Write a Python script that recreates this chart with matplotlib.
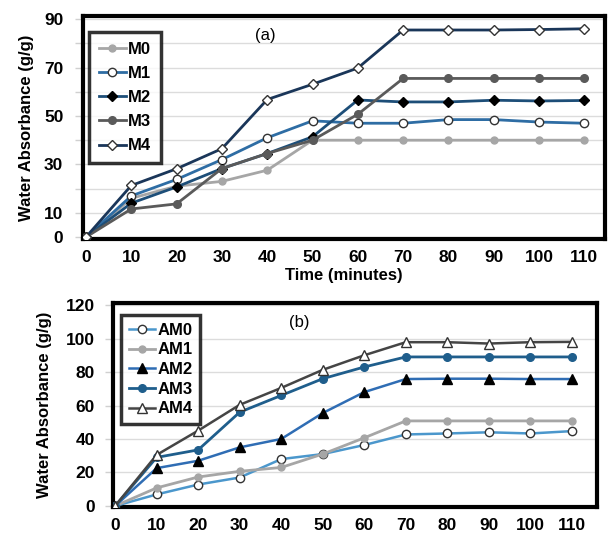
import matplotlib
matplotlib.use("Agg")
import matplotlib.pyplot as plt

plt.rcParams['font.family'] = ['Liberation Sans', 'DejaVu Sans']

time = [0, 10, 20, 30, 40, 50, 60, 70, 80, 90, 100, 110]

# Panel (a)
M0 = [0, 16, 21, 23, 27.6, 40, 40, 40, 40, 40, 40, 40]
M1 = [0, 17, 23.8, 32, 41, 48, 47, 47, 48.5, 48.5, 47.5, 47]
M2 = [0, 14, 20.7, 28.3, 34.5, 41.4, 56.6, 55.8, 55.8, 56.5, 56.2, 56.4]
M3 = [0, 11.6, 13.7, 28.3, 34.5, 40, 50.7, 65.5, 65.5, 65.5, 65.5, 65.5]
M4 = [0, 21.3, 28.2, 36.5, 56.8, 63.1, 69.8, 85.5, 85.5, 85.5, 85.7, 86]

# Panel (b)
AM0 = [0, 6.9, 12.8, 17, 28, 31, 36.4, 42.7, 43.3, 44, 43.3, 44.7]
AM1 = [0, 10.8, 17.3, 20.7, 23, 31, 40.7, 50.8, 50.8, 50.8, 50.8, 50.8]
AM2 = [0, 22.6, 27, 35, 40, 55.5, 68, 75.8, 76, 76, 75.8, 75.8]
AM3 = [0, 29, 33.5, 56, 66, 76, 83, 89, 89, 89, 89, 89]
AM4 = [0, 30.5, 45, 60.4, 70.5, 81.3, 90, 97.8, 97.8, 97, 97.8, 98]

a_labels = ['M0', 'M1', 'M2', 'M3', 'M4']
b_labels = ['AM0', 'AM1', 'AM2', 'AM3', 'AM4']
a_yticks = [0, 10, 20, 30, 40, 50, 60, 70, 80, 90]
a_yticklabels = ['0', '10', '', '30', '', '50', '', '70', '', '90']
b_yticks = [0, 20, 40, 60, 80, 100, 120]

fig = plt.figure(figsize=(6.09, 5.33), dpi=100)

ax1 = fig.add_axes([0.136, 0.5516, 0.857, 0.418])
ax2 = fig.add_axes([0.1856, 0.0488, 0.7944, 0.3827])

a_styles = [
    dict(color='#a6a6a6', marker='o', mfc='#a6a6a6', mec='#a6a6a6', ms=5, lw=2),
    dict(color='#2e6da4', marker='o', mfc='white', mec='#333333', ms=6, lw=2),
    dict(color='#1d4e78', marker='D', mfc='black', mec='black', ms=5, lw=2),
    dict(color='#5a5a5a', marker='o', mfc='#5a5a5a', mec='#5a5a5a', ms=5.5, lw=2),
    dict(color='#1a3659', marker='D', mfc='white', mec='#333333', ms=5.5, lw=2),
]
b_styles = [
    dict(color='#4b97cc', marker='o', mfc='white', mec='#333333', ms=6, lw=1.8),
    dict(color='#a6a6a6', marker='o', mfc='#a6a6a6', mec='#a6a6a6', ms=5, lw=2),
    dict(color='#2f6db4', marker='^', mfc='black', mec='black', ms=6.5, lw=1.8),
    dict(color='#1f5e8c', marker='o', mfc='#1f5e8c', mec='#1f5e8c', ms=5.5, lw=2),
    dict(color='#454545', marker='^', mfc='white', mec='#333333', ms=7, lw=1.8),
]

for ys, lab, st in zip([M0, M1, M2, M3, M4], a_labels, a_styles):
    ax1.plot(time, ys, label=lab, zorder=3, **st)
for ys, lab, st in zip([AM0, AM1, AM2, AM3, AM4], b_labels, b_styles):
    ax2.plot(time, ys, label=lab, zorder=3, **st)

ax1.set_xlim(-0.7, 114.5)
ax1.set_ylim(-0.8, 91.2)
ax1.set_yticks(a_yticks)
ax1.set_yticklabels(a_yticklabels)
ax2.set_xlim(-0.5, 116)
ax2.set_ylim(-0.6, 121.2)
ax2.set_yticks(b_yticks)

for ax, ypad in ((ax1, 8), (ax2, 7)):
    ax.set_xticks(time)
    ax.grid(axis='y', color='#dcdcdc', lw=1)
    ax.set_axisbelow(True)
    for s in ax.spines.values():
        s.set_linewidth(3)
        s.set_color('black')
    ax.tick_params(axis='y', length=6, width=1, color='#d0d0d0', pad=ypad, labelsize=12.5)
    ax.tick_params(axis='x', length=0, pad=8, labelsize=12.5)
    for t in ax.get_xticklabels() + ax.get_yticklabels():
        t.set_fontweight('bold')

ax1.set_xlabel('Time (minutes)', fontsize=12, fontweight='bold', labelpad=2)
ax1.set_ylabel('Water Absorbance (g/g)', fontsize=12, fontweight='bold', labelpad=7)
ax2.set_ylabel('Water Absorbance (g/g)', fontsize=12, fontweight='bold', labelpad=10)

ax1.text(0.35, 0.915, '(a)', transform=ax1.transAxes, fontsize=12, ha='center', va='center')
ax2.text(0.385, 0.905, '(b)', transform=ax2.transAxes, fontsize=12, ha='center', va='center')

leg1 = ax1.legend(loc='upper left', bbox_to_anchor=(0.012, 0.93), frameon=True, fancybox=False,
                  prop=dict(weight='bold', size=12), handlelength=1.6, handletextpad=0.1,
                  labelspacing=0.55, borderpad=0.6, borderaxespad=0)
leg1.get_frame().set_edgecolor('black')
leg1.get_frame().set_linewidth(2.5)

leg2 = ax2.legend(loc='upper left', bbox_to_anchor=(0.017, 0.94), frameon=True, fancybox=False,
                  prop=dict(weight='bold', size=12), handlelength=1.6, handletextpad=0.1,
                  labelspacing=0.28, borderpad=0.45, borderaxespad=0)
leg2.get_frame().set_edgecolor('black')
leg2.get_frame().set_linewidth(2.5)

fig.savefig('out.png', dpi=100)
